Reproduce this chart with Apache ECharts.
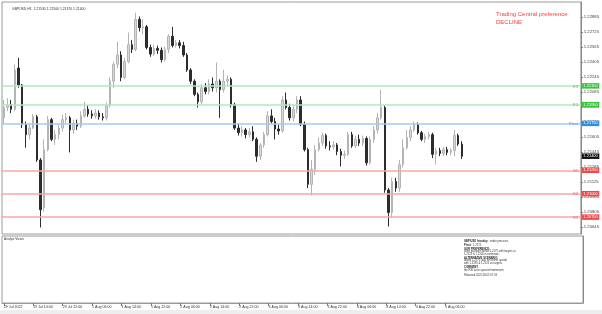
<!DOCTYPE html>
<html><head><meta charset="utf-8">
<script src="https://cdn.jsdelivr.net/npm/echarts@6/dist/echarts.min.js"></script>
<style>html,body{margin:0;padding:0;background:#fff;}#c{width:602px;height:314px;}</style>
</head><body><div id="c"></div>
<script>
// ---- data ----
const sessions = [['29 Jul',6,23],['1 Aug',0,23],['2 Aug',0,23],['3 Aug',0,23],['4 Aug',0,23],['5 Aug',0,11]];
const futureSlots = 32;
const opens = [1.2181,1.2192,1.2195,1.2190,1.2234,1.2216,1.2174,1.2163,1.2170,1.2182,
1.2136,1.2085,1.2147,1.2179,1.2158,1.2163,1.2170,1.2179,1.2181,1.2168,
1.2175,1.2172,1.2183,1.2190,1.2185,1.2183,1.2186,1.2182,1.2181,1.2194,
1.2220,1.2238,1.2248,1.2224,1.2241,1.2259,1.2254,1.2286,1.2277,1.2278,
1.2256,1.2249,1.2255,1.2253,1.2243,1.2254,1.2268,1.2258,1.2261,1.2258,
1.2248,1.2232,1.2220,1.2206,1.2198,1.2213,1.2209,1.2217,1.2213,1.2220,
1.2211,1.2220,1.2222,1.2195,1.2170,1.2165,1.2168,1.2163,1.2166,1.2158,
1.2140,1.2152,1.2163,1.2183,1.2177,1.2169,1.2167,1.2200,1.2192,1.2181,
1.2190,1.2200,1.2174,1.2147,1.2110,1.2126,1.2147,1.2154,1.2162,1.2151,
1.2150,1.2152,1.2145,1.2141,1.2142,1.2163,1.2151,1.2158,1.2154,1.2159,
1.2133,1.2158,1.2168,1.2181,1.2192,1.2104,1.2080,1.2113,1.2106,1.2131,
1.2149,1.2160,1.2168,1.2174,1.2165,1.2158,1.2161,1.2163,1.2142,1.2146,
1.2143,1.2147,1.2144,1.2146,1.2162,1.2153];
const closes = [1.2192,1.2195,1.2190,1.2232,1.2216,1.2174,1.2163,1.2170,1.2182,1.2136,
1.2083,1.2147,1.2179,1.2158,1.2163,1.2170,1.2179,1.2181,1.2168,1.2175,
1.2172,1.2183,1.2190,1.2185,1.2183,1.2186,1.2182,1.2181,1.2194,1.2220,
1.2238,1.2248,1.2224,1.2241,1.2259,1.2254,1.2286,1.2277,1.2278,1.2256,
1.2249,1.2255,1.2253,1.2243,1.2254,1.2268,1.2258,1.2261,1.2258,1.2248,
1.2232,1.2220,1.2206,1.2198,1.2213,1.2209,1.2217,1.2213,1.2220,1.2211,
1.2220,1.2222,1.2195,1.2170,1.2165,1.2168,1.2163,1.2166,1.2158,1.2140,
1.2152,1.2163,1.2183,1.2177,1.2169,1.2167,1.2200,1.2192,1.2181,1.2190,
1.2200,1.2174,1.2147,1.2110,1.2126,1.2147,1.2154,1.2162,1.2151,1.2150,
1.2152,1.2145,1.2141,1.2142,1.2163,1.2151,1.2158,1.2154,1.2159,1.2133,
1.2158,1.2168,1.2181,1.2192,1.2104,1.2080,1.2113,1.2106,1.2131,1.2149,
1.2160,1.2168,1.2174,1.2165,1.2158,1.2161,1.2163,1.2142,1.2146,1.2143,
1.2147,1.2144,1.2146,1.2162,1.2153,1.2140];
const lows = [1.2174,1.2188,1.2186,1.2188,1.2213,1.2170,1.2149,1.2158,1.2169,1.2134,
1.2064,1.2081,1.2145,1.2156,1.2152,1.2158,1.2166,1.2175,1.2144,1.2164,
1.2168,1.2170,1.2181,1.2182,1.2180,1.2180,1.2179,1.2178,1.2178,1.2192,
1.2213,1.2234,1.2220,1.2222,1.2239,1.2250,1.2252,1.2273,1.2270,1.2254,
1.2246,1.2247,1.2249,1.2240,1.2241,1.2250,1.2256,1.2256,1.2255,1.2246,
1.2230,1.2217,1.2204,1.2192,1.2195,1.2206,1.2206,1.2209,1.2208,1.2181,
1.2208,1.2215,1.2192,1.2168,1.2162,1.2161,1.2159,1.2160,1.2156,1.2134,
1.2136,1.2149,1.2161,1.2175,1.2158,1.2163,1.2165,1.2190,1.2178,1.2177,
1.2186,1.2172,1.2145,1.2106,1.2098,1.2120,1.2145,1.2151,1.2148,1.2146,
1.2147,1.2141,1.2129,1.2137,1.2140,1.2149,1.2149,1.2151,1.2151,1.2130,
1.2131,1.2154,1.2164,1.2179,1.2101,1.2065,1.2074,1.2102,1.2102,1.2128,
1.2147,1.2156,1.2166,1.2163,1.2156,1.2154,1.2158,1.2138,1.2131,1.2140,
1.2140,1.2141,1.2141,1.2140,1.2151,1.2137];
const highs = [1.2200,1.2202,1.2200,1.2238,1.2245,1.2217,1.2177,1.2174,1.2185,1.2184,
1.2138,1.2158,1.2183,1.2181,1.2168,1.2174,1.2184,1.2186,1.2183,1.2179,
1.2179,1.2188,1.2198,1.2194,1.2189,1.2190,1.2189,1.2186,1.2197,1.2224,
1.2241,1.2262,1.2252,1.2245,1.2272,1.2264,1.2293,1.2289,1.2286,1.2280,
1.2259,1.2259,1.2258,1.2256,1.2257,1.2270,1.2278,1.2264,1.2264,1.2262,
1.2250,1.2234,1.2222,1.2208,1.2217,1.2218,1.2222,1.2224,1.2240,1.2222,
1.2232,1.2226,1.2224,1.2197,1.2175,1.2172,1.2170,1.2170,1.2172,1.2160,
1.2154,1.2166,1.2188,1.2190,1.2181,1.2174,1.2204,1.2208,1.2196,1.2194,
1.2204,1.2204,1.2177,1.2149,1.2136,1.2152,1.2160,1.2165,1.2164,1.2156,
1.2156,1.2154,1.2148,1.2146,1.2166,1.2166,1.2162,1.2163,1.2162,1.2161,
1.2161,1.2172,1.2186,1.2211,1.2194,1.2106,1.2117,1.2117,1.2136,1.2158,
1.2168,1.2172,1.2177,1.2176,1.2167,1.2164,1.2166,1.2165,1.2149,1.2149,
1.2150,1.2150,1.2149,1.2168,1.2164,1.2156];
const levelNames = ['R3','R2','Pivot','S1','S2','S3'];
const levelValues = [1.2215,1.2195,1.2175,1.2125,1.2100,1.2075];
const tickValues = [1.20645,1.20805,1.20965,1.21125,1.21285,1.21445,1.21605,1.21765,1.21925,1.22085,1.22245,1.22405,1.22565,1.22725,1.22885];
const yMin = 1.20570, yMax = 1.23045;
const symbolName = 'GBPUSD,H1';
const prefTitle = 'Trading Central preference';
const prefValue = 'DECLINE';
const analysisLines = [
  '{b|GBP/USD Intraday:}  under pressure.',
  '{b|Pivot:}  1.2175',
  '{b|OUR PREFERENCE:}',
  'short positions below 1.2175 with targets at',
  '1.2125 & 1.2100 in extension.',
  '{b|ALTERNATIVE SCENARIO:}',
  'above 1.2175 look for further upside',
  'with 1.2195 & 1.2215 as targets.',
  '{b|COMMENT:}',
  'the RSI lacks upward momentum.',
  'Released 2022.08.05 07:03'
];

// ---- build ----
const categories = [];
sessions.forEach(([day,h0,h1],si)=>{
  for(let h=h0;h<=h1;h++){
    categories.push(si===0&&h===h0 ? day+' 2022' : day+' '+String(h).padStart(2,'0')+':00');
  }
});
const nReal = categories.length;
for(let k=0;k<futureSlots;k++) categories.push('');
const candleData = opens.map((o,i)=>[o,closes[i],lows[i],highs[i]]);
const last = nReal-1;
const header = symbolName+'  '+opens[last].toFixed(5)+' '+highs[last].toFixed(5)+' '+lows[last].toFixed(5)+' '+closes[last].toFixed(5);

const lineCol = {R:'#b2eab2',P:'#9fcbf4',S:'#f6a9a9'};
const badgeCol = {R:'#3cc23c',P:'#2f8de6',S:'#ee4a4a'};
const textCol = {R:'#5cc05c',P:'#4e97e2',S:'#e65a5a'};
function kind(n){return n==='Pivot'?'P':n[0];}
const CLEAR = 'rgba(255,255,255,0)';

const labelFn = (idx)=> idx%8===0 && idx<nReal;
const FONT = 'Liberation Sans, Arial, sans-serif';

const chart = echarts.init(document.getElementById('c'),null,{renderer:'canvas'});
const lineY = [241,245,249.3,251.7,254,258.3,260.7,262.9,267.3,270,275];
const graphics = analysisLines.map((t,i)=>({
  type:'text', x:464, y:lineY[i], silent:true,
  style:{text:t, fill:'#333', font:'2.7px '+FONT, verticalAlign:'middle',
    rich:{b:{fontWeight:'bold',fontSize:2.7,fill:'#222',fontFamily:FONT}}}
}));
graphics.push({type:'text', x:4, y:239, silent:true, style:{text:'Analyst Views', fill:'#333', font:'3.2px '+FONT, verticalAlign:'middle'}});
graphics.push({type:'rect', shape:{x:0,y:310,width:602,height:4}, style:{fill:'#eeeeee'}, silent:true});

const badgeLines = levelValues.map((v,i)=>{const k=kind(levelNames[i]);return {yAxis:v,
  lineStyle:{color:lineCol[k],width:1.5,type:'solid'},
  label:{show:true,position:'end',distance:1,formatter:v.toFixed(5),color:'#fff',
    backgroundColor:badgeCol[k],fontSize:4,padding:[1,1.5,0.5,1.5]}};});
const nameLines = levelValues.map((v,i)=>{const k=kind(levelNames[i]);return {yAxis:v,
  lineStyle:{color:CLEAR,width:0},
  label:{show:true,position:'insideEndTop',distance:[3,-2.5],formatter:levelNames[i],
    color:textCol[k],fontSize:4}};});
const priceLine = {yAxis:closes[last],lineStyle:{color:CLEAR,width:0},
  label:{show:true,position:'end',distance:1,formatter:closes[last].toFixed(5),color:'#fff',
    backgroundColor:'#111',fontSize:4,padding:[1,1.5,0.5,1.5]}};

chart.setOption({
  animation:false,
  backgroundColor:'#ffffff',
  textStyle:{fontFamily:FONT},
  title:[
    {text:header, left:7, top:3, textStyle:{fontSize:3.4,color:'#333',fontWeight:'normal'}},
    {text:prefTitle+'\n'+prefValue, left:491, top:6, textStyle:{fontSize:6,lineHeight:7.5,color:'#ff3a3a',fontWeight:'normal'}}
  ],
  graphic:graphics,
  grid:[
    {left:2,right:19,top:2,height:232,show:true,borderColor:'#9a9a9a',borderWidth:1,backgroundColor:'#fff'},
    {left:2,right:19,top:236,height:67,show:true,borderColor:'#9a9a9a',borderWidth:1,backgroundColor:'#fff'}
  ],
  xAxis:[
    {type:'category',gridIndex:0,data:categories,show:false,boundaryGap:true},
    {type:'category',gridIndex:1,data:categories,boundaryGap:true,
     axisLine:{show:true,lineStyle:{color:'#9a9a9a'}},
     axisTick:{show:true,interval:labelFn,alignWithLabel:true,length:3,lineStyle:{color:'#777'}},
     axisLabel:{interval:labelFn,align:'left',fontSize:3.6,color:'#333',margin:2}}
  ],
  yAxis:[
    {type:'value',gridIndex:0,position:'right',min:yMin,max:yMax,
     splitLine:{show:false},
     axisLine:{show:true,lineStyle:{color:'#8a8a8a'}},
     axisTick:{show:true,length:2,customValues:tickValues,lineStyle:{color:'#777'}},
     axisLabel:{customValues:tickValues,formatter:v=>v.toFixed(5),fontSize:4.2,color:'#444',margin:3}},
    {type:'value',gridIndex:1,position:'right',min:0,max:1,
     axisLabel:{show:false},axisTick:{show:false},splitLine:{show:false},
     axisLine:{show:true,lineStyle:{color:'#8a8a8a'}}}
  ],
  series:[
    {type:'candlestick',xAxisIndex:0,yAxisIndex:0,data:candleData,barWidth:2,
     itemStyle:{color:'#d8d8d8',borderColor:'#b4b4b4',color0:'#2c2c2c',borderColor0:'#2c2c2c',borderWidth:1},
     markLine:{silent:true,symbol:['none','none'],animation:false,precision:5,
       data:badgeLines.concat(nameLines,[priceLine])}},
    {type:'line',xAxisIndex:1,yAxisIndex:1,data:[]}
  ]
});
</script></body></html>
